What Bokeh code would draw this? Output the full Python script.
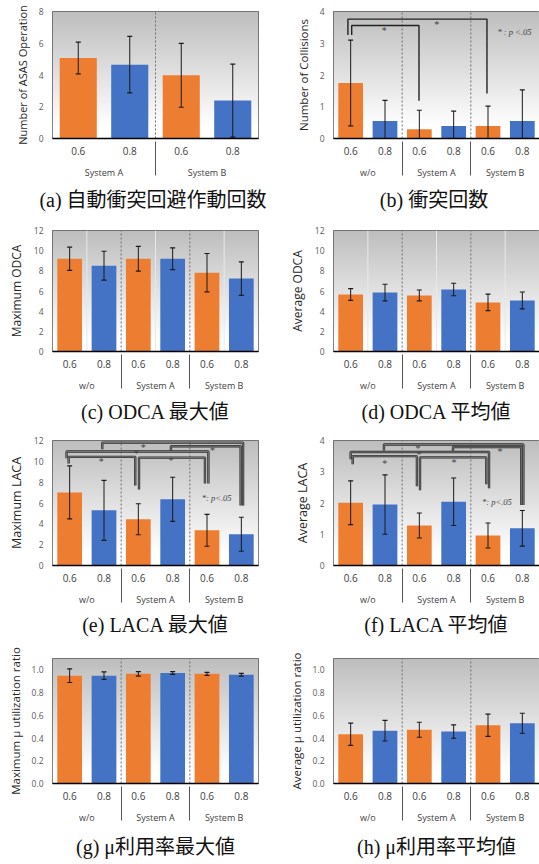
import numpy as np
from bokeh.plotting import figure
from bokeh.models import (FactorRange, Range1d, FixedTicker, Title,
                          ColumnDataSource, NumeralTickFormatter)
from bokeh.layouts import gridplot
from bokeh.embed import file_html
from bokeh.resources import INLINE
from bokeh.core.properties import value

# ---------------- data ----------------
levels = ["0.6", "0.8"]
groups3 = ["w/o", "System A", "System B"]
groups2 = ["System A", "System B"]

a_mean = [5.07, 4.65, 3.98, 2.39]
a_sd = [1.00, 1.78, 2.01, 2.30]
b_mean = [1.75, 0.55, 0.29, 0.39, 0.39, 0.55]
b_sd = [1.35, 0.65, 0.60, 0.47, 0.63, 0.98]
c_mean = [9.20, 8.51, 9.20, 9.20, 7.82, 7.23]
c_sd = [1.15, 1.43, 1.23, 1.08, 1.90, 1.66]
d_mean = [5.65, 5.85, 5.56, 6.15, 4.87, 5.06]
d_sd = [0.58, 0.82, 0.54, 0.62, 0.82, 0.84]
e_mean = [7.02, 5.30, 4.44, 6.35, 3.38, 3.00]
e_sd = [2.55, 2.88, 1.49, 2.12, 1.53, 1.63]
f_mean = [2.01, 1.95, 1.28, 2.04, 0.96, 1.19]
f_sd = [0.70, 0.95, 0.40, 0.76, 0.40, 0.57]
g_mean = [0.949, 0.949, 0.965, 0.973, 0.965, 0.957]
g_sd = [0.060, 0.033, 0.020, 0.012, 0.013, 0.012]
h_mean = [0.433, 0.465, 0.473, 0.457, 0.513, 0.530]
h_sd = [0.098, 0.091, 0.066, 0.059, 0.098, 0.088]

ticks_8 = [0, 2, 4, 6, 8]
ticks_4 = [0, 1, 2, 3, 4]
ticks_12 = [0, 2, 4, 6, 8, 10, 12]
ticks_1 = [0.0, 0.2, 0.4, 0.6, 0.8, 1.0]

# significance brackets: [x_left, x_right, y_level, y_left_end, y_right_end] (bar-index units)
b_brackets = [[0.42, 4.47, 3.76, 3.26, 1.42],
              [0.53, 2.49, 3.56, 3.26, 1.19]]
b_star_x = [1.48, 3.01]
b_star_y = [3.39, 3.58]
b_note = ["* : p <.05"]
b_note_x = [5.27]
b_note_y = [3.36]

e_brackets = [[1.45, 5.55, 11.80, 11.15, 5.76],
              [3.45, 5.48, 11.45, 11.00, 5.76],
              [0.41, 4.54, 10.94, 10.30, 7.87],
              [0.47, 2.41, 10.43, 9.80, 7.68],
              [2.52, 4.44, 10.36, 7.30, 7.87]]
e_star_x = [2.64, 4.66, 2.44, 1.42, 3.45]
e_star_y = [11.30, 11.00, 10.75, 10.00, 10.10]
e_note = ["*: p<.05"]
e_note_x = [4.78]
e_note_y = [6.5]

f_brackets = [[1.47, 5.53, 3.87, 3.68, 1.94],
              [3.48, 5.47, 3.79, 3.65, 1.94],
              [0.50, 4.53, 3.63, 3.40, 2.47],
              [0.56, 2.43, 3.50, 3.24, 2.54],
              [2.52, 4.45, 3.46, 2.41, 2.60]]
f_star_x = [2.46, 4.85, 2.49, 1.49, 3.51]
f_star_y = [3.76, 3.66, 3.56, 3.28, 3.31]
f_note = ["*: p<.05"]
f_note_x = [4.76]
f_note_y = [2.03]

ORANGE = "#ED7D31"
BLUE = "#4472C4"
SANS = "Open Sans"
CAP_FONT = "Liberation Serif, Noto Sans CJK JP"


def gradient_image(h=256):
    t = np.linspace(0.0, 1.0, h)
    g = 255 - (255 - 190) * np.clip((t - 0.1) / 0.9, 0, 1)
    img = np.zeros((h, 2), dtype=np.uint32)
    view = img.view(dtype=np.uint8).reshape((h, 2, 4))
    for k in range(3):
        view[:, :, k] = g[:, None].astype(np.uint8)
    view[:, :, 3] = 255
    return img


def panel(mean, sd, groups, ymax, yticks, ylabel, ylabel_size, caption,
          width, height, bl, br, bt, bb, fmt=None, inner_lines=False,
          brackets=None, double=False, stars=None, note=None, cap_standoff=10):
    factors = [(g, l) for g in groups for l in levels]
    n = len(factors)
    # with zero padding, the factor range spans synthetic coordinates 0..n
    p = figure(x_range=FactorRange(factors=factors, factor_padding=0, group_padding=0,
                                   range_padding=0),
               y_range=Range1d(0, ymax), width=width, height=height,
               output_backend="svg", toolbar_location=None,
               min_border_left=bl, min_border_right=br, min_border_top=bt,
               min_border_bottom=bb)

    # background gradient
    p.image_rgba(image=[gradient_image()], x=0, y=0, dw=n, dh=ymax)

    if inner_lines:
        xs = [2 * k + 1 for k in range(len(groups))]
        p.segment(x0=xs, y0=0, x1=xs, y1=ymax, line_color="#e8e8e8", line_width=1)
    seps = [2 * k for k in range(1, len(groups))]
    p.segment(x0=seps, y0=0, x1=seps, y1=ymax,
              line_color="#6e6e6e", line_width=1, line_dash="2 2")

    colors = [ORANGE if f[1] == "0.6" else BLUE for f in factors]
    upper = [m + s for m, s in zip(mean, sd)]
    lower = [max(m - s, 0) for m, s in zip(mean, sd)]
    src = ColumnDataSource(dict(x=factors, top=mean, color=colors, upper=upper, lower=lower))
    p.vbar(x="x", top="top", width=0.72, source=src, fill_color="color", line_color=None)
    # error bars
    p.segment(x0="x", y0="lower", x1="x", y1="upper", source=src,
              line_color="#1a1a1a", line_width=1)
    p.scatter(x="x", y="upper", source=src, marker="dash", size=5,
              line_color="#1a1a1a", line_width=1.2)
    p.scatter(x="x", y="lower", source=src, marker="dash", size=5,
              line_color="#1a1a1a", line_width=1.2)

    if brackets:
        bx = [[b[0], b[0], b[1], b[1]] for b in brackets]
        by = [[b[3], b[2], b[2], b[4]] for b in brackets]
        if double:
            p.multi_line(xs=bx, ys=by, line_color="#2e2e2e", line_width=2.4)
            p.multi_line(xs=bx, ys=by, line_color="#9a9a9a", line_width=0.7)
        else:
            p.multi_line(xs=bx, ys=by, line_color="#222222", line_width=1.4)
    if stars:
        p.text(x=stars[0], y=stars[1], text=["*"] * len(stars[0]),
               text_font=value("Liberation Serif"), text_font_size="10px",
               text_align="center", text_baseline="middle", text_color="#444444")
    if note:
        p.text(x=note[1], y=note[2], text=note[0],
               text_font=value("Liberation Serif"), text_font_size="8.5px",
               text_font_style="italic",
               text_align="center", text_baseline="middle", text_color="#444444")

    # axes
    p.xgrid.visible = False
    p.ygrid.visible = False
    p.outline_line_color = "#595959"
    p.outline_line_width = 1

    ya = p.yaxis[0]
    ya.ticker = FixedTicker(ticks=yticks)
    if fmt:
        ya.formatter = NumeralTickFormatter(format=fmt)
    ya.axis_line_color = None
    ya.major_tick_line_color = None
    ya.minor_tick_line_color = None
    ya.major_tick_out = 0
    ya.major_label_standoff = 9
    ya.major_label_text_font = SANS
    ya.major_label_text_font_size = "8.5px"
    ya.major_label_text_color = "#595959"
    ya.axis_label = ylabel
    ya.axis_label_text_font = SANS
    ya.axis_label_text_font_size = ylabel_size
    ya.axis_label_text_font_style = "normal"
    ya.axis_label_text_color = "#262626"
    ya.axis_label_standoff = 6

    xa = p.xaxis[0]
    xa.axis_line_color = "black"
    xa.axis_line_width = 1.6
    xa.major_tick_line_color = None
    xa.minor_tick_line_color = None
    xa.major_tick_out = 0
    xa.major_tick_in = 0
    xa.major_label_standoff = 8
    xa.major_label_text_font = SANS
    xa.major_label_text_font_size = "10px"
    xa.major_label_text_color = "#404040"
    xa.group_text_font = SANS
    xa.group_text_font_size = "9px"
    xa.group_text_font_style = "normal"
    xa.group_text_color = "#404040"
    xa.separator_line_color = "#555555"
    xa.separator_line_width = 1

    p.add_layout(Title(text=caption, align="center", text_font_size="20px",
                       text_font=CAP_FONT, text_font_style="normal", text_color="#111111",
                       standoff=cap_standoff), "below")
    return p


LW, RW = 270, 269
pa = panel(a_mean, a_sd, groups2, 8, ticks_8, "Number of ASAS Operation", "11px",
           "(a)  自動衝突回避作動回数", LW, 215, 52, 8, 11, 76)
pb = panel(b_mean, b_sd, groups3, 4, ticks_4, "Number of Collisions", "11.5px",
           "(b)  衝突回数", RW, 215, 62, 0, 11, 76,
           brackets=b_brackets, stars=[b_star_x, b_star_y], note=[b_note, b_note_x, b_note_y])
pc = panel(c_mean, c_sd, groups3, 12, ticks_12, "Maximum ODCA", "12px",
           "(c) ODCA 最大値", LW, 215, 51, 11, 15, 79, inner_lines=True, cap_standoff=8)
pd_ = panel(d_mean, d_sd, groups3, 12, ticks_12, "Average ODCA", "12px",
            "(d) ODCA 平均値", RW, 215, 63, 0, 15, 79, inner_lines=True, cap_standoff=8)
pe = panel(e_mean, e_sd, groups3, 12, ticks_12, "Maximum LACA", "12.5px",
           "(e) LACA 最大値", LW, 215, 49, 12, 10, 80,
           brackets=e_brackets, double=True, stars=[e_star_x, e_star_y],
           note=[e_note, e_note_x, e_note_y], cap_standoff=7)
pf = panel(f_mean, f_sd, groups3, 4, ticks_4, "Average LACA", "12.5px",
           "(f) LACA 平均値", RW, 215, 59, 0, 10, 80,
           brackets=f_brackets, double=True, stars=[f_star_x, f_star_y],
           note=[f_note, f_note_x, f_note_y], cap_standoff=7)
pg = panel(g_mean, g_sd, groups3, 1.1, ticks_1, "Maximum μ utilization ratio", "11.5px",
           "(g) μ利用率最大値", LW, 219, 49, 11, 13, 70, fmt="0.0", cap_standoff=14)
ph = panel(h_mean, h_sd, groups3, 1.1, ticks_1, "Average μ utilization ratio", "11.5px",
           "(h) μ利用率平均値", RW, 219, 60, 0, 13, 70, fmt="0.0", cap_standoff=14)

grid = gridplot([[pa, pb], [pc, pd_], [pe, pf], [pg, ph]], toolbar_location=None)

open("out.html", "w").write(file_html(grid, INLINE))
